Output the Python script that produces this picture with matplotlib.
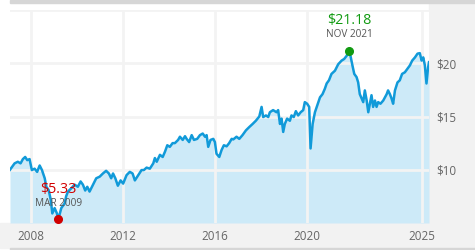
import matplotlib
matplotlib.use("Agg")
import matplotlib.pyplot as plt
from matplotlib.patches import Rectangle

plt.rcParams['font.family'] = ['Open Sans', 'DejaVu Sans']

# price history (decimal year, $)
years = [
    2007.09, 2007.29, 2007.43, 2007.55, 2007.65, 2007.75, 2007.84, 2007.94,
    2008.04, 2008.16, 2008.27, 2008.38, 2008.48, 2008.60, 2008.67, 2008.77,
    2008.86, 2008.93, 2009.03, 2009.13, 2009.19, 2009.32, 2009.47, 2009.53,
    2009.61, 2009.75, 2009.90, 2010.04, 2010.16, 2010.26, 2010.36, 2010.45,
    2010.55, 2010.70, 2010.84, 2010.99, 2011.13, 2011.27, 2011.39, 2011.49,
    2011.57, 2011.67, 2011.78, 2011.90, 2012.01, 2012.16, 2012.30, 2012.42,
    2012.52, 2012.67, 2012.81, 2012.91, 2013.03, 2013.17, 2013.32, 2013.39,
    2013.47, 2013.61, 2013.73, 2013.83, 2013.93, 2014.04, 2014.16, 2014.26,
    2014.40, 2014.48, 2014.60, 2014.70, 2014.77, 2014.88, 2014.99, 2015.09,
    2015.23, 2015.35, 2015.47, 2015.57, 2015.64, 2015.71, 2015.81, 2015.93,
    2016.00, 2016.07, 2016.19, 2016.29, 2016.39, 2016.51, 2016.62, 2016.73,
    2016.80, 2016.94, 2017.06, 2017.20, 2017.35, 2017.49, 2017.64, 2017.78,
    2017.93, 2018.03, 2018.10, 2018.22, 2018.32, 2018.39, 2018.53, 2018.68,
    2018.75, 2018.83, 2018.90, 2018.97, 2019.04, 2019.14, 2019.26, 2019.33,
    2019.43, 2019.52, 2019.62, 2019.73, 2019.84, 2019.91, 2020.01, 2020.10,
    2020.16, 2020.25, 2020.35, 2020.45, 2020.57, 2020.68, 2020.78, 2020.86,
    2020.96, 2021.07, 2021.22, 2021.36, 2021.51, 2021.62, 2021.73, 2021.84,
    2021.91, 2021.97, 2022.06, 2022.16, 2022.23, 2022.30, 2022.38, 2022.45,
    2022.52, 2022.60, 2022.67, 2022.74, 2022.81, 2022.88, 2022.96, 2023.03,
    2023.10, 2023.20, 2023.32, 2023.47, 2023.53, 2023.61, 2023.68, 2023.75,
    2023.83, 2023.94, 2024.04, 2024.14, 2024.26, 2024.38, 2024.48, 2024.58,
    2024.70, 2024.81, 2024.91, 2024.99, 2025.06, 2025.13, 2025.20, 2025.27,
    2025.31,
]
prices = [
    10.0, 10.6, 10.75, 10.6, 11.0, 11.2, 10.9, 11.0,
    9.97, 10.1, 9.8, 10.4, 9.97, 9.2, 8.4, 8.1,
    7.2, 5.9, 6.4, 5.9, 5.33, 6.4, 6.85, 7.5,
    7.95, 8.25, 8.6, 8.4, 8.9, 8.6, 8.05, 8.4,
    7.95, 8.6, 9.2, 9.35, 9.65, 9.9, 9.65, 9.2,
    9.65, 9.2, 8.5, 9.0, 8.7, 9.5, 9.8, 9.65,
    9.0, 9.5, 9.97, 9.97, 10.2, 10.1, 10.6, 11.1,
    10.75, 11.4, 11.2, 11.7, 12.3, 12.15, 12.5, 12.5,
    12.8, 13.1, 12.8, 13.15, 12.9, 12.6, 13.25, 12.8,
    12.9, 13.25, 13.4, 13.1, 13.25, 12.15, 12.8, 12.9,
    12.6, 11.5, 11.2, 11.85, 12.3, 12.2, 12.5, 12.9,
    12.85, 13.1, 12.9, 13.25, 13.7, 14.0, 14.3, 14.6,
    15.0, 15.9, 14.95, 15.1, 14.95, 15.4, 15.6, 15.4,
    15.6, 14.3, 14.8, 13.55, 14.3, 14.8, 14.6, 15.1,
    14.95, 15.5, 15.1, 15.4, 15.6, 16.35, 16.2, 15.9,
    12.0, 14.3, 15.4, 16.05, 16.8, 17.1, 17.6, 18.1,
    18.4, 19.0, 19.3, 19.9, 20.25, 20.4, 20.7, 21.18,
    20.55, 19.9, 19.0, 18.7, 18.2, 17.1, 16.7, 16.35,
    17.45, 16.5, 15.4, 16.2, 17.0, 15.9, 16.5, 15.9,
    16.35, 16.2, 16.5, 17.1, 17.45, 17.1, 16.7, 16.2,
    17.45, 18.2, 18.4, 19.0, 19.15, 19.5, 19.8, 20.25,
    20.55, 20.9, 20.95, 20.25, 20.55, 19.8, 18.1, 19.6,
    20.1,
]

low_year, low_price, low_label = 2009.19, 5.33, "MAR 2009"
high_year, high_price, high_label = 2021.84, 21.18, "NOV 2021"

x_ticks = [2008, 2012, 2016, 2020, 2025]
y_ticks = [10, 15, 20, 25]
y_labels = ["$10", "$15", "$20", ""]

W, H = 475, 250
fig = plt.figure(figsize=(W / 100, H / 100), dpi=100)
fig.patch.set_facecolor("white")

# grey frame pieces (pixel boxes from top-left)
def px_rect(x0, y0, x1, y1, color):
    fig.patches.append(Rectangle((x0 / W, 1 - y1 / H), (x1 - x0) / W, (y1 - y0) / H,
                                 transform=fig.transFigure, color=color, zorder=-5))

px_rect(429, 2, 475, 248, "#f2f2f2")
px_rect(0, 223, 475, 248, "#f2f2f2")
px_rect(10, 0, 475, 2.5, "#d6d6d6")
px_rect(10, 247.5, 475, 250, "#d6d6d6")

ax = fig.add_axes([10 / W, 1 - 223 / H, 419 / W, 213 / H])
ax.set_zorder(1)
ax.set_facecolor("white")
ax.fill_between(years, prices, 5, color="#cdeaf8", lw=0, zorder=1)
ax.plot(years, prices, color="#119ad9", lw=1.8, zorder=3, solid_joinstyle="round")

ax.set_xlim(2007.09, 2025.31)
ax.set_ylim(5, 25)
ax.set_xticks(x_ticks)
ax.set_yticks(y_ticks)
ax.set_yticklabels(y_labels)
ax.yaxis.tick_right()
ax.grid(True, color="#f3f3f3", lw=2, zorder=2)
ax.set_axisbelow(False)
for s in ax.spines.values():
    s.set_visible(False)
ax.tick_params(length=0, labelsize=8.4, labelcolor="#666666")
ax.tick_params(axis="x", pad=5)
ax.tick_params(axis="y", pad=5.5)

# extreme markers
ax.plot([low_year], [low_price], "o", color="#d10000", ms=5.5, zorder=4, clip_on=False)
ax.plot([high_year], [high_price], "o", color="#119a11", ms=5.5, zorder=4, clip_on=False)
for yr, pr, lab, col in [(low_year, low_price, low_label, "#d10000"),
                         (high_year, high_price, high_label, "#119a11")]:
    ax.annotate(f"${pr:.2f}", (yr, pr), xytext=(0, 30), textcoords="offset pixels",
                ha="center", va="center", color=col, fontsize=10.3, zorder=5)
    ax.annotate(lab, (yr, pr), xytext=(0, 16), textcoords="offset pixels",
                ha="center", va="center", color="#555555", fontsize=7.2, zorder=5)

fig.savefig("out.png", dpi=100)
